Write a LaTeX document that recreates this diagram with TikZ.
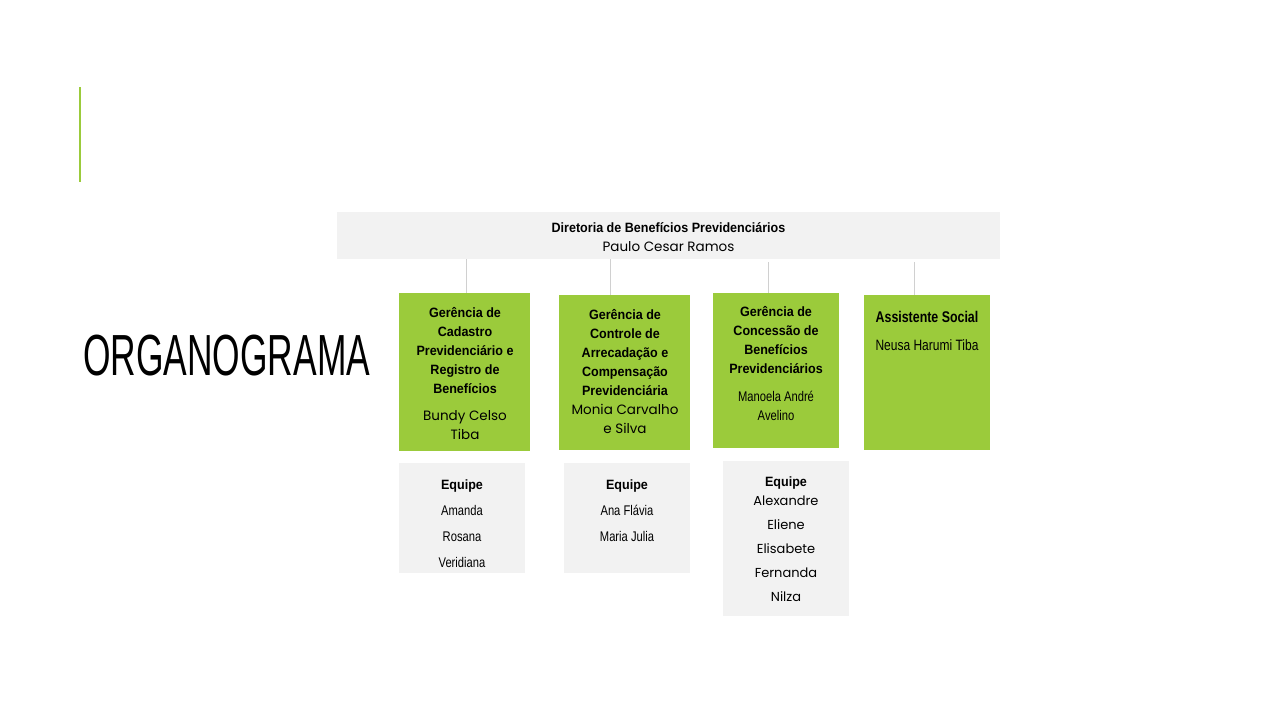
\documentclass[tikz,border=0pt]{standalone}
\usepackage{fontspec}
\setmainfont{Liberation Sans}
\newfontfamily\titlefont[FakeStretch=0.61]{Liberation Sans}
\newfontfamily\boldfont[FakeStretch=0.93]{Liberation Sans}
\newfontfamily\condfont[FakeStretch=0.8]{Liberation Sans}
\newfontfamily\geofont{Poppins}
\definecolor{verde}{RGB}{155,203,59}
\definecolor{cinza}{RGB}{242,242,242}
\definecolor{fio}{RGB}{208,208,208}
\newcommand{\nome}{\geofont\mdseries\fontsize{13.5}{19}\selectfont}
\newcommand{\membro}{\condfont\mdseries\fontsize{14}{19}\selectfont}

\begin{document}
\begin{tikzpicture}[x=1pt,y=-1pt,
  caixa/.style={anchor=north west,inner sep=0pt,outer sep=0pt},
  gbox/.style={caixa,fill=verde},
  cbox/.style={caixa,fill=cinza},
  liga/.style={draw=fio,line width=0.8pt},
  cargo/.style={anchor=base,align=center,inner sep=0pt,font={\boldfont\bfseries\fontsize{13.5}{19}\selectfont}},
  equipe/.style={cargo,font={\boldfont\bfseries\fontsize{13.5}{26}\selectfont}}]
\fill[white] (0,0) rectangle (1280,720);
\useasboundingbox (0,0) rectangle (1280,720);
% barra e titulo
\draw[verde,line width=2pt] (80,87) -- (80,182);
\node[anchor=base west,inner sep=0pt,font={\titlefont\fontsize{58}{60}\selectfont}] (titulo) at (83,375) {ORGANOGRAMA};
% caixas
\node[cbox,minimum width=663pt,minimum height=47pt] (dir) at (337,212) {};
\node[gbox,minimum width=131pt,minimum height=158pt] (cad) at (399,293) {};
\node[gbox,minimum width=131pt,minimum height=155pt] (arr) at (559,295) {};
\node[gbox,minimum width=126pt,minimum height=155pt] (con) at (713,293) {};
\node[gbox,minimum width=126pt,minimum height=155pt] (ass) at (864,295) {};
\node[cbox,minimum width=126pt,minimum height=110pt] (eq1) at (399,463) {};
\node[cbox,minimum width=126pt,minimum height=110pt] (eq2) at (564,463) {};
\node[cbox,minimum width=126pt,minimum height=155pt] (eq3) at (723,461) {};
% ligacoes
\coordinate (p1) at (466,259);
\coordinate (p2) at (610.5,259);
\coordinate (p3) at (768,262);
\coordinate (p4) at (914,262);
\draw[liga] (dir.south -| p1) -- (cad.north -| p1);
\draw[liga] (dir.south -| p2) -- (arr.north -| p2);
\draw[liga] (p3) -- (con.north -| p3);
\draw[liga] (p4) -- (ass.north -| p4);
% textos (base = ultima linha)
\node[cargo] (dirT) at (668.5,251) {Diretoria de Benefícios Previdenciários\\{\nome Paulo Cesar Ramos}};
\node[cargo] (cadT) at (465,439.3) {Gerência de\\Cadastro\\Previdenciário e\\Registro de\\Benefícios\\[7.5pt]{\nome Bundy Celso}\\{\nome Tiba}};
\node[cargo] (arrT) at (625,433.3) {Gerência de\\Controle de\\Arrecadação e\\Compensação\\Previdenciária\\{\nome Monia Carvalho}\\{\nome e Silva}};
\node[cargo] (conT) at (776,420) {Gerência de\\Concessão de\\Benefícios\\Previdenciários\\[8.5pt]{\membro Manoela André}\\{\membro Avelino}};
\node[cargo,font={\condfont\bfseries\fontsize{15.5}{28}\selectfont}] (assT) at (927,350) {Assistente Social\\{\condfont\mdseries\fontsize{15}{19}\selectfont Neusa Harumi Tiba}};
\node[equipe] (eq1T) at (462,567) {Equipe\\{\membro Amanda}\\{\membro Rosana}\\{\membro Veridiana}};
\node[equipe] (eq2T) at (627,541) {Equipe\\{\membro Ana Flávia}\\{\membro Maria Julia}};
\node[equipe,font={\boldfont\bfseries\fontsize{13.5}{24}\selectfont}] (eq3T) at (786,601) {Equipe\\[-5.7pt]{\nome\fontsize{13}{19}\selectfont Alexandre}\\{\nome\fontsize{13}{19}\selectfont Eliene}\\{\nome\fontsize{13}{19}\selectfont Elisabete}\\{\nome\fontsize{13}{19}\selectfont Fernanda}\\{\nome\fontsize{13}{19}\selectfont Nilza}};
\end{tikzpicture}
\end{document}
